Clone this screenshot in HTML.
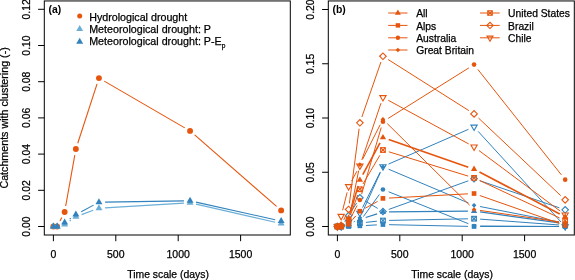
<!DOCTYPE html>
<html><head><meta charset="utf-8"><style>
html,body{margin:0;padding:0;background:#fff;}
svg{display:block;will-change:transform;}
text{font-family:"Liberation Sans", sans-serif;stroke:#000;stroke-width:0.25px;}
</style></head><body>
<svg width="575" height="280" viewBox="0 0 575 280">
<rect width="575" height="280" fill="#fff"/>
<rect x="44.3" y="0.95" width="246" height="234.05" fill="none" stroke="#000" stroke-width="1.0"/>
<rect x="328.3" y="0.95" width="246" height="234.05" fill="none" stroke="#000" stroke-width="1.0"/>
<line x1="38.1" y1="226.5" x2="44.3" y2="226.5" stroke="#000" stroke-width="1.0"/>
<text x="30" y="226.5" font-size="10.4" text-anchor="middle" transform="rotate(-90 30 226.5)" fill="#000">0.00</text>
<line x1="38.1" y1="190.3" x2="44.3" y2="190.3" stroke="#000" stroke-width="1.0"/>
<text x="30" y="190.3" font-size="10.4" text-anchor="middle" transform="rotate(-90 30 190.3)" fill="#000">0.02</text>
<line x1="38.1" y1="154.1" x2="44.3" y2="154.1" stroke="#000" stroke-width="1.0"/>
<text x="30" y="154.1" font-size="10.4" text-anchor="middle" transform="rotate(-90 30 154.1)" fill="#000">0.04</text>
<line x1="38.1" y1="117.9" x2="44.3" y2="117.9" stroke="#000" stroke-width="1.0"/>
<text x="30" y="117.9" font-size="10.4" text-anchor="middle" transform="rotate(-90 30 117.9)" fill="#000">0.06</text>
<line x1="38.1" y1="81.7" x2="44.3" y2="81.7" stroke="#000" stroke-width="1.0"/>
<text x="30" y="81.7" font-size="10.4" text-anchor="middle" transform="rotate(-90 30 81.7)" fill="#000">0.08</text>
<line x1="38.1" y1="45.5" x2="44.3" y2="45.5" stroke="#000" stroke-width="1.0"/>
<text x="30" y="45.5" font-size="10.4" text-anchor="middle" transform="rotate(-90 30 45.5)" fill="#000">0.10</text>
<line x1="38.1" y1="9.3" x2="44.3" y2="9.3" stroke="#000" stroke-width="1.0"/>
<text x="30" y="9.3" font-size="10.4" text-anchor="middle" transform="rotate(-90 30 9.3)" fill="#000">0.12</text>
<line x1="53.4" y1="235" x2="53.4" y2="241.2" stroke="#000" stroke-width="1.0"/>
<text x="53.4" y="257.7" font-size="10.5" text-anchor="middle" fill="#000">0</text>
<line x1="115.8" y1="235" x2="115.8" y2="241.2" stroke="#000" stroke-width="1.0"/>
<text x="115.8" y="257.7" font-size="10.5" text-anchor="middle" fill="#000">500</text>
<line x1="178.2" y1="235" x2="178.2" y2="241.2" stroke="#000" stroke-width="1.0"/>
<text x="178.2" y="257.7" font-size="10.5" text-anchor="middle" fill="#000">1000</text>
<line x1="240.6" y1="235" x2="240.6" y2="241.2" stroke="#000" stroke-width="1.0"/>
<text x="240.6" y="257.7" font-size="10.5" text-anchor="middle" fill="#000">1500</text>
<text x="168.1" y="277.6" font-size="10.4" text-anchor="middle" fill="#000">Time scale (days)</text>
<text x="8" y="117.9" font-size="10.7" text-anchor="middle" transform="rotate(-90 8 117.9)" fill="#000">Catchments with clustering (-)</text>
<line x1="322.1" y1="226.5" x2="328.3" y2="226.5" stroke="#000" stroke-width="1.0"/>
<text x="314" y="226.5" font-size="10.4" text-anchor="middle" transform="rotate(-90 314 226.5)" fill="#000">0.00</text>
<line x1="322.1" y1="172.25" x2="328.3" y2="172.25" stroke="#000" stroke-width="1.0"/>
<text x="314" y="172.25" font-size="10.4" text-anchor="middle" transform="rotate(-90 314 172.25)" fill="#000">0.05</text>
<line x1="322.1" y1="118" x2="328.3" y2="118" stroke="#000" stroke-width="1.0"/>
<text x="314" y="118" font-size="10.4" text-anchor="middle" transform="rotate(-90 314 118)" fill="#000">0.10</text>
<line x1="322.1" y1="63.75" x2="328.3" y2="63.75" stroke="#000" stroke-width="1.0"/>
<text x="314" y="63.75" font-size="10.4" text-anchor="middle" transform="rotate(-90 314 63.75)" fill="#000">0.15</text>
<line x1="322.1" y1="9.5" x2="328.3" y2="9.5" stroke="#000" stroke-width="1.0"/>
<text x="314" y="9.5" font-size="10.4" text-anchor="middle" transform="rotate(-90 314 9.5)" fill="#000">0.20</text>
<line x1="337.4" y1="235" x2="337.4" y2="241.2" stroke="#000" stroke-width="1.0"/>
<text x="337.4" y="257.7" font-size="10.5" text-anchor="middle" fill="#000">0</text>
<line x1="399.8" y1="235" x2="399.8" y2="241.2" stroke="#000" stroke-width="1.0"/>
<text x="399.8" y="257.7" font-size="10.5" text-anchor="middle" fill="#000">500</text>
<line x1="462.2" y1="235" x2="462.2" y2="241.2" stroke="#000" stroke-width="1.0"/>
<text x="462.2" y="257.7" font-size="10.5" text-anchor="middle" fill="#000">1000</text>
<line x1="524.6" y1="235" x2="524.6" y2="241.2" stroke="#000" stroke-width="1.0"/>
<text x="524.6" y="257.7" font-size="10.5" text-anchor="middle" fill="#000">1500</text>
<text x="452.1" y="277.6" font-size="10.4" text-anchor="middle" fill="#000">Time scale (days)</text>
<line x1="59.95" y1="221.08" x2="61.83" y2="217.44" stroke="#E6550D" stroke-width="1.1"/>
<line x1="65.7" y1="206.01" x2="74.79" y2="155.04" stroke="#E6550D" stroke-width="1.1"/>
<line x1="77.75" y1="143.23" x2="97.06" y2="83.88" stroke="#E6550D" stroke-width="1.1"/>
<line x1="104.23" y1="81.14" x2="184.78" y2="127.87" stroke="#E6550D" stroke-width="1.1"/>
<line x1="194.65" y1="134.94" x2="276.56" y2="206.38" stroke="#E6550D" stroke-width="1.1"/>
<circle cx="53.4" cy="226.5" r="2.94" fill="#E6550D"/>
<circle cx="57.14" cy="226.5" r="2.94" fill="#E6550D"/>
<circle cx="64.63" cy="212.02" r="2.94" fill="#E6550D"/>
<circle cx="75.86" cy="149.03" r="2.94" fill="#E6550D"/>
<circle cx="98.95" cy="78.08" r="2.94" fill="#E6550D"/>
<circle cx="190.06" cy="130.93" r="2.94" fill="#E6550D"/>
<circle cx="281.16" cy="210.39" r="2.94" fill="#E6550D"/>
<line x1="69.65" y1="221.03" x2="70.85" y2="220.2" stroke="#6BAED6" stroke-width="1.1"/>
<line x1="81.59" y1="214.62" x2="93.23" y2="210.33" stroke="#6BAED6" stroke-width="1.1"/>
<line x1="105.04" y1="207.86" x2="183.97" y2="203.15" stroke="#6BAED6" stroke-width="1.1"/>
<line x1="196" y1="204.15" x2="275.21" y2="222.25" stroke="#6BAED6" stroke-width="1.1"/>
<polygon points="53.4,222.48 56.88,228.51 49.92,228.51" fill="#6BAED6"/>
<polygon points="57.14,222.48 60.63,228.51 53.66,228.51" fill="#6BAED6"/>
<polygon points="64.63,220.49 68.12,226.52 61.15,226.52" fill="#6BAED6"/>
<polygon points="75.86,212.7 79.35,218.74 72.38,218.74" fill="#6BAED6"/>
<polygon points="98.95,204.2 102.44,210.23 95.47,210.23" fill="#6BAED6"/>
<polygon points="190.06,198.77 193.54,204.8 186.57,204.8" fill="#6BAED6"/>
<polygon points="281.16,219.58 284.64,225.62 277.68,225.62" fill="#6BAED6"/>
<line x1="69.61" y1="218.99" x2="70.89" y2="218.08" stroke="#3182BD" stroke-width="1.1"/>
<line x1="81.25" y1="211.68" x2="93.57" y2="205.12" stroke="#3182BD" stroke-width="1.1"/>
<line x1="105.05" y1="202.15" x2="183.96" y2="200.89" stroke="#3182BD" stroke-width="1.1"/>
<line x1="196.01" y1="202.12" x2="275.21" y2="219.75" stroke="#3182BD" stroke-width="1.1"/>
<polygon points="53.4,222.48 56.88,228.51 49.92,228.51" fill="#3182BD"/>
<polygon points="57.14,222.48 60.63,228.51 53.66,228.51" fill="#3182BD"/>
<polygon points="64.63,218.49 68.12,224.53 61.15,224.53" fill="#3182BD"/>
<polygon points="75.86,210.53 79.35,216.57 72.38,216.57" fill="#3182BD"/>
<polygon points="98.95,198.22 102.44,204.26 95.47,204.26" fill="#3182BD"/>
<polygon points="190.06,196.77 193.54,202.81 186.57,202.81" fill="#3182BD"/>
<polygon points="281.16,217.05 284.64,223.08 277.68,223.08" fill="#3182BD"/>
<text x="48.6" y="13.4" font-size="10.4" text-anchor="start" font-weight="bold" style="stroke-width:0" fill="#000">(a)</text>
<circle cx="79.7" cy="15.9" r="2.5" fill="#E6550D"/>
<polygon points="79.7,24.98 83.18,31.01 76.22,31.01" fill="#6BAED6"/>
<polygon points="79.7,37.78 83.18,43.81 76.22,43.81" fill="#3182BD"/>
<text x="89.2" y="20.6" font-size="10.7" text-anchor="start" fill="#000">Hydrological drought</text>
<text x="89.2" y="32.9" font-size="10.7" text-anchor="start" fill="#000">Meteorological drought: P</text>
<text x="89.2" y="45.2" font-size="10.7" text-anchor="start" fill="#000">Meteorological drought: P-E<tspan font-size="6.6" dy="3.2">p</tspan></text>
<g>
<line x1="354.25" y1="221.73" x2="354.25" y2="221.73" stroke="#3182BD" stroke-width="1.25"/>
<line x1="365.67" y1="217.48" x2="377.14" y2="213.82" stroke="#3182BD" stroke-width="1.25"/>
<line x1="389.05" y1="211.9" x2="467.96" y2="211.15" stroke="#3182BD" stroke-width="1.25"/>
<line x1="480.1" y1="211.93" x2="559.12" y2="222.84" stroke="#3182BD" stroke-width="1.25"/>
<polygon points="337.4,222.88 340.53,228.31 334.27,228.31" fill="#3182BD"/>
<polygon points="341.14,222.88 344.28,228.31 338.01,228.31" fill="#3182BD"/>
<polygon points="348.63,220.5 351.76,225.92 345.5,225.92" fill="#3182BD"/>
<polygon points="359.86,215.72 363,221.15 356.73,221.15" fill="#3182BD"/>
<polygon points="382.95,208.35 386.08,213.77 379.82,213.77" fill="#3182BD"/>
<polygon points="474.06,207.48 477.19,212.9 470.92,212.9" fill="#3182BD"/>
<polygon points="565.16,220.06 568.29,225.49 562.03,225.49" fill="#3182BD"/>
<line x1="365.95" y1="225.51" x2="376.86" y2="224.89" stroke="#3182BD" stroke-width="1.0"/>
<line x1="389.05" y1="224.68" x2="467.96" y2="226.37" stroke="#3182BD" stroke-width="1.0"/>
<line x1="480.16" y1="226.5" x2="559.06" y2="226.5" stroke="#3182BD" stroke-width="1.0"/>
<rect x="335.07" y="224.18" width="4.65" height="4.65" fill="#3182BD"/>
<rect x="338.82" y="224.18" width="4.65" height="4.65" fill="#3182BD"/>
<rect x="346.31" y="224.18" width="4.65" height="4.65" fill="#3182BD"/>
<rect x="357.54" y="223.52" width="4.65" height="4.65" fill="#3182BD"/>
<rect x="380.63" y="222.22" width="4.65" height="4.65" fill="#3182BD"/>
<rect x="471.73" y="224.18" width="4.65" height="4.65" fill="#3182BD"/>
<rect x="562.83" y="224.18" width="4.65" height="4.65" fill="#3182BD"/>
<line x1="363.43" y1="216.56" x2="379.38" y2="194.45" stroke="#3182BD" stroke-width="1.0"/>
<line x1="388.62" y1="191.77" x2="468.39" y2="223.69" stroke="#3182BD" stroke-width="1.0"/>
<line x1="480.16" y1="225.99" x2="559.06" y2="226.46" stroke="#3182BD" stroke-width="1.0"/>
<circle cx="337.4" cy="226.5" r="2.33" fill="#3182BD"/>
<circle cx="341.14" cy="226.5" r="2.33" fill="#3182BD"/>
<circle cx="348.63" cy="225.41" r="2.33" fill="#3182BD"/>
<circle cx="359.86" cy="221.51" r="2.33" fill="#3182BD"/>
<circle cx="382.95" cy="189.5" r="2.33" fill="#3182BD"/>
<circle cx="474.06" cy="225.96" r="2.33" fill="#3182BD"/>
<circle cx="565.16" cy="226.5" r="2.33" fill="#3182BD"/>
<line x1="353.69" y1="222" x2="354.81" y2="221.24" stroke="#3182BD" stroke-width="1.0"/>
<line x1="362.38" y1="212.26" x2="380.44" y2="172.38" stroke="#3182BD" stroke-width="1.0"/>
<line x1="388.57" y1="169.2" x2="468.44" y2="202.97" stroke="#3182BD" stroke-width="1.0"/>
<line x1="480.04" y1="206.52" x2="559.17" y2="222.07" stroke="#3182BD" stroke-width="1.0"/>
<polygon points="335.07,226.5 337.4,224.18 339.72,226.5 337.4,228.82" fill="#3182BD"/>
<polygon points="338.82,226.5 341.14,224.18 343.47,226.5 341.14,228.82" fill="#3182BD"/>
<polygon points="346.31,225.41 348.63,223.09 350.96,225.41 348.63,227.74" fill="#3182BD"/>
<polygon points="357.54,217.82 359.86,215.5 362.19,217.82 359.86,220.14" fill="#3182BD"/>
<polygon points="380.63,166.82 382.95,164.5 385.28,166.82 382.95,169.15" fill="#3182BD"/>
<polygon points="471.73,205.34 474.06,203.02 476.38,205.34 474.06,207.67" fill="#3182BD"/>
<polygon points="562.83,223.25 565.16,220.92 567.49,223.25 565.16,225.57" fill="#3182BD"/>
<line x1="365.93" y1="222.37" x2="376.89" y2="221.19" stroke="#3182BD" stroke-width="1.0"/>
<line x1="389.05" y1="220.41" x2="467.96" y2="218.81" stroke="#3182BD" stroke-width="1.0"/>
<line x1="480.14" y1="219.14" x2="559.08" y2="224.97" stroke="#3182BD" stroke-width="1.0"/>
<rect x="335.07" y="224.18" width="4.65" height="4.65" fill="none" stroke="#3182BD" stroke-width="1.1"/>
<line x1="335.07" y1="224.18" x2="339.72" y2="228.82" stroke="#3182BD" stroke-width="1.1"/>
<line x1="335.07" y1="228.82" x2="339.72" y2="224.18" stroke="#3182BD" stroke-width="1.1"/>
<rect x="338.82" y="224.18" width="4.65" height="4.65" fill="none" stroke="#3182BD" stroke-width="1.1"/>
<line x1="338.82" y1="224.18" x2="343.47" y2="228.82" stroke="#3182BD" stroke-width="1.1"/>
<line x1="338.82" y1="228.82" x2="343.47" y2="224.18" stroke="#3182BD" stroke-width="1.1"/>
<rect x="346.31" y="223.09" width="4.65" height="4.65" fill="none" stroke="#3182BD" stroke-width="1.1"/>
<line x1="346.31" y1="223.09" x2="350.96" y2="227.74" stroke="#3182BD" stroke-width="1.1"/>
<line x1="346.31" y1="227.74" x2="350.96" y2="223.09" stroke="#3182BD" stroke-width="1.1"/>
<rect x="357.54" y="220.7" width="4.65" height="4.65" fill="none" stroke="#3182BD" stroke-width="1.1"/>
<line x1="357.54" y1="220.7" x2="362.19" y2="225.35" stroke="#3182BD" stroke-width="1.1"/>
<line x1="357.54" y1="225.35" x2="362.19" y2="220.7" stroke="#3182BD" stroke-width="1.1"/>
<rect x="380.63" y="218.21" width="4.65" height="4.65" fill="none" stroke="#3182BD" stroke-width="1.1"/>
<line x1="380.63" y1="218.21" x2="385.28" y2="222.86" stroke="#3182BD" stroke-width="1.1"/>
<line x1="380.63" y1="222.86" x2="385.28" y2="218.21" stroke="#3182BD" stroke-width="1.1"/>
<rect x="471.73" y="216.36" width="4.65" height="4.65" fill="none" stroke="#3182BD" stroke-width="1.1"/>
<line x1="471.73" y1="216.36" x2="476.38" y2="221.01" stroke="#3182BD" stroke-width="1.1"/>
<line x1="471.73" y1="221.01" x2="476.38" y2="216.36" stroke="#3182BD" stroke-width="1.1"/>
<rect x="562.83" y="223.09" width="4.65" height="4.65" fill="none" stroke="#3182BD" stroke-width="1.1"/>
<line x1="562.83" y1="223.09" x2="567.49" y2="227.74" stroke="#3182BD" stroke-width="1.1"/>
<line x1="562.83" y1="227.74" x2="567.49" y2="223.09" stroke="#3182BD" stroke-width="1.1"/>
<line x1="344.61" y1="221.48" x2="345.17" y2="220.67" stroke="#3182BD" stroke-width="1.0"/>
<line x1="351.89" y1="210.49" x2="356.61" y2="203.01" stroke="#3182BD" stroke-width="1.0"/>
<line x1="365.11" y1="200.96" x2="377.7" y2="208.42" stroke="#3182BD" stroke-width="1.0"/>
<line x1="388.69" y1="209.46" x2="468.32" y2="180.82" stroke="#3182BD" stroke-width="1.0"/>
<line x1="479.83" y1="180.73" x2="559.39" y2="207.82" stroke="#3182BD" stroke-width="1.0"/>
<polygon points="334.11,226.5 337.4,223.21 340.69,226.5 337.4,229.79" fill="none" stroke="#3182BD" stroke-width="1.1"/>
<polygon points="337.86,226.5 341.14,223.21 344.43,226.5 341.14,229.79" fill="none" stroke="#3182BD" stroke-width="1.1"/>
<polygon points="345.34,215.65 348.63,212.36 351.92,215.65 348.63,218.94" fill="none" stroke="#3182BD" stroke-width="1.1"/>
<polygon points="356.58,197.86 359.86,194.57 363.15,197.86 359.86,201.14" fill="none" stroke="#3182BD" stroke-width="1.1"/>
<polygon points="379.66,211.53 382.95,208.24 386.24,211.53 382.95,214.82" fill="none" stroke="#3182BD" stroke-width="1.1"/>
<polygon points="470.77,178.76 474.06,175.47 477.34,178.76 474.06,182.05" fill="none" stroke="#3182BD" stroke-width="1.1"/>
<polygon points="561.87,209.79 565.16,206.5 568.45,209.79 565.16,213.08" fill="none" stroke="#3182BD" stroke-width="1.1"/>
<line x1="353.37" y1="218.32" x2="355.13" y2="216.89" stroke="#3182BD" stroke-width="1.0"/>
<line x1="362.57" y1="207.58" x2="380.24" y2="171.96" stroke="#3182BD" stroke-width="1.0"/>
<line x1="388.55" y1="164.07" x2="468.46" y2="129.33" stroke="#3182BD" stroke-width="1.0"/>
<line x1="478.17" y1="131.4" x2="561.04" y2="222" stroke="#3182BD" stroke-width="1.0"/>
<polygon points="337.4,230.12 340.53,224.69 334.27,224.69" fill="none" stroke="#3182BD" stroke-width="1.1"/>
<polygon points="341.14,230.12 344.28,224.69 338.01,224.69" fill="none" stroke="#3182BD" stroke-width="1.1"/>
<polygon points="348.63,225.78 351.76,220.35 345.5,220.35" fill="none" stroke="#3182BD" stroke-width="1.1"/>
<polygon points="359.86,216.66 363,211.24 356.73,211.24" fill="none" stroke="#3182BD" stroke-width="1.1"/>
<polygon points="382.95,170.12 386.08,164.69 379.82,164.69" fill="none" stroke="#3182BD" stroke-width="1.1"/>
<polygon points="474.06,130.51 477.19,125.09 470.92,125.09" fill="none" stroke="#3182BD" stroke-width="1.1"/>
<polygon points="565.16,230.12 568.29,224.69 562.03,224.69" fill="none" stroke="#3182BD" stroke-width="1.1"/>
<line x1="350.37" y1="211.97" x2="358.12" y2="185.91" stroke="#E6550D" stroke-width="1.6"/>
<line x1="362.77" y1="174.7" x2="380.04" y2="142.89" stroke="#E6550D" stroke-width="1.6"/>
<line x1="388.71" y1="139.53" x2="468.29" y2="167.21" stroke="#E6550D" stroke-width="1.6"/>
<line x1="479.46" y1="172.04" x2="559.75" y2="214.02" stroke="#E6550D" stroke-width="1.6"/>
<polygon points="337.4,222.88 340.53,228.31 334.27,228.31" fill="#E6550D"/>
<polygon points="341.14,222.88 344.28,228.31 338.01,228.31" fill="#E6550D"/>
<polygon points="348.63,214.2 351.76,219.63 345.5,219.63" fill="#E6550D"/>
<polygon points="359.86,176.45 363,181.87 356.73,181.87" fill="#E6550D"/>
<polygon points="382.95,133.91 386.08,139.34 379.82,139.34" fill="#E6550D"/>
<polygon points="474.06,165.6 477.19,171.02 470.92,171.02" fill="#E6550D"/>
<polygon points="565.16,213.23 568.29,218.65 562.03,218.65" fill="#E6550D"/>
<line x1="352.6" y1="219.69" x2="355.9" y2="215.84" stroke="#E6550D" stroke-width="1.0"/>
<line x1="365.2" y1="208.24" x2="377.62" y2="201.36" stroke="#E6550D" stroke-width="1.0"/>
<line x1="389.04" y1="198.07" x2="467.96" y2="193.84" stroke="#E6550D" stroke-width="1.0"/>
<line x1="479.81" y1="195.53" x2="559.4" y2="223.4" stroke="#E6550D" stroke-width="1.0"/>
<rect x="335.07" y="224.18" width="4.65" height="4.65" fill="#E6550D"/>
<rect x="338.82" y="224.18" width="4.65" height="4.65" fill="#E6550D"/>
<rect x="346.31" y="222.01" width="4.65" height="4.65" fill="#E6550D"/>
<rect x="357.54" y="208.88" width="4.65" height="4.65" fill="#E6550D"/>
<rect x="380.63" y="196.07" width="4.65" height="4.65" fill="#E6550D"/>
<rect x="471.73" y="191.19" width="4.65" height="4.65" fill="#E6550D"/>
<rect x="562.83" y="223.09" width="4.65" height="4.65" fill="#E6550D"/>
<line x1="351.39" y1="216.72" x2="357.1" y2="205.47" stroke="#E6550D" stroke-width="1.0"/>
<line x1="361.59" y1="194.17" x2="381.23" y2="127.54" stroke="#E6550D" stroke-width="1.0"/>
<line x1="388.12" y1="118.45" x2="468.89" y2="67.86" stroke="#E6550D" stroke-width="1.0"/>
<line x1="477.84" y1="69.4" x2="561.37" y2="174.85" stroke="#E6550D" stroke-width="1.0"/>
<circle cx="337.4" cy="226.5" r="2.33" fill="#E6550D"/>
<circle cx="341.14" cy="226.5" r="2.33" fill="#E6550D"/>
<circle cx="348.63" cy="222.16" r="2.33" fill="#E6550D"/>
<circle cx="359.86" cy="200.03" r="2.33" fill="#E6550D"/>
<circle cx="382.95" cy="121.69" r="2.33" fill="#E6550D"/>
<circle cx="474.06" cy="64.62" r="2.33" fill="#E6550D"/>
<circle cx="565.16" cy="179.63" r="2.33" fill="#E6550D"/>
<line x1="349.82" y1="215.09" x2="358.67" y2="170.64" stroke="#E6550D" stroke-width="1.0"/>
<line x1="362.63" y1="159.22" x2="380.18" y2="124.74" stroke="#E6550D" stroke-width="1.0"/>
<line x1="387.29" y1="123.6" x2="469.72" y2="205.28" stroke="#E6550D" stroke-width="1.0"/>
<line x1="480.09" y1="210.44" x2="559.12" y2="221.83" stroke="#E6550D" stroke-width="1.0"/>
<polygon points="335.07,226.5 337.4,224.18 339.72,226.5 337.4,228.82" fill="#E6550D"/>
<polygon points="338.82,226.5 341.14,224.18 343.47,226.5 341.14,228.82" fill="#E6550D"/>
<polygon points="346.31,221.07 348.63,218.75 350.96,221.07 348.63,223.4" fill="#E6550D"/>
<polygon points="357.54,164.66 359.86,162.33 362.19,164.66 359.86,166.98" fill="#E6550D"/>
<polygon points="380.63,119.3 382.95,116.98 385.28,119.3 382.95,121.63" fill="#E6550D"/>
<polygon points="471.73,209.57 474.06,207.25 476.38,209.57 474.06,211.9" fill="#E6550D"/>
<polygon points="562.83,222.7 565.16,220.38 567.49,222.7 565.16,225.03" fill="#E6550D"/>
<line x1="350.73" y1="214.26" x2="357.77" y2="195.01" stroke="#E6550D" stroke-width="1.0"/>
<line x1="362.96" y1="184.03" x2="379.86" y2="155.27" stroke="#E6550D" stroke-width="1.0"/>
<line x1="388.78" y1="151.79" x2="468.22" y2="176.11" stroke="#E6550D" stroke-width="1.0"/>
<line x1="479.58" y1="180.48" x2="559.64" y2="217.95" stroke="#E6550D" stroke-width="1.0"/>
<rect x="335.07" y="224.18" width="4.65" height="4.65" fill="none" stroke="#E6550D" stroke-width="1.1"/>
<line x1="335.07" y1="224.18" x2="339.72" y2="228.82" stroke="#E6550D" stroke-width="1.1"/>
<line x1="335.07" y1="228.82" x2="339.72" y2="224.18" stroke="#E6550D" stroke-width="1.1"/>
<rect x="338.82" y="224.18" width="4.65" height="4.65" fill="none" stroke="#E6550D" stroke-width="1.1"/>
<line x1="338.82" y1="224.18" x2="343.47" y2="228.82" stroke="#E6550D" stroke-width="1.1"/>
<line x1="338.82" y1="228.82" x2="343.47" y2="224.18" stroke="#E6550D" stroke-width="1.1"/>
<rect x="346.31" y="217.67" width="4.65" height="4.65" fill="none" stroke="#E6550D" stroke-width="1.1"/>
<line x1="346.31" y1="217.67" x2="350.96" y2="222.31" stroke="#E6550D" stroke-width="1.1"/>
<line x1="346.31" y1="222.31" x2="350.96" y2="217.67" stroke="#E6550D" stroke-width="1.1"/>
<rect x="357.54" y="186.96" width="4.65" height="4.65" fill="none" stroke="#E6550D" stroke-width="1.1"/>
<line x1="357.54" y1="186.96" x2="362.19" y2="191.61" stroke="#E6550D" stroke-width="1.1"/>
<line x1="357.54" y1="191.61" x2="362.19" y2="186.96" stroke="#E6550D" stroke-width="1.1"/>
<rect x="380.63" y="147.68" width="4.65" height="4.65" fill="none" stroke="#E6550D" stroke-width="1.1"/>
<line x1="380.63" y1="147.68" x2="385.28" y2="152.33" stroke="#E6550D" stroke-width="1.1"/>
<line x1="380.63" y1="152.33" x2="385.28" y2="147.68" stroke="#E6550D" stroke-width="1.1"/>
<rect x="471.73" y="175.57" width="4.65" height="4.65" fill="none" stroke="#E6550D" stroke-width="1.1"/>
<line x1="471.73" y1="175.57" x2="476.38" y2="180.22" stroke="#E6550D" stroke-width="1.1"/>
<line x1="471.73" y1="180.22" x2="476.38" y2="175.57" stroke="#E6550D" stroke-width="1.1"/>
<rect x="562.83" y="218.21" width="4.65" height="4.65" fill="none" stroke="#E6550D" stroke-width="1.1"/>
<line x1="562.83" y1="218.21" x2="567.49" y2="222.86" stroke="#E6550D" stroke-width="1.1"/>
<line x1="562.83" y1="222.86" x2="567.49" y2="218.21" stroke="#E6550D" stroke-width="1.1"/>
<line x1="343.74" y1="219.89" x2="346.04" y2="214.99" stroke="#E6550D" stroke-width="1.0"/>
<line x1="349.42" y1="203.42" x2="359.08" y2="128.82" stroke="#E6550D" stroke-width="1.0"/>
<line x1="361.86" y1="117.01" x2="380.95" y2="62.03" stroke="#E6550D" stroke-width="1.0"/>
<line x1="388.11" y1="59.52" x2="468.9" y2="110.62" stroke="#E6550D" stroke-width="1.0"/>
<line x1="478.49" y1="118.06" x2="560.72" y2="195.62" stroke="#E6550D" stroke-width="1.0"/>
<polygon points="334.11,226.5 337.4,223.21 340.69,226.5 337.4,229.79" fill="none" stroke="#E6550D" stroke-width="1.1"/>
<polygon points="337.86,225.41 341.14,222.13 344.43,225.41 341.14,228.7" fill="none" stroke="#E6550D" stroke-width="1.1"/>
<polygon points="345.34,209.47 348.63,206.18 351.92,209.47 348.63,212.75" fill="none" stroke="#E6550D" stroke-width="1.1"/>
<polygon points="356.58,122.77 359.86,119.49 363.15,122.77 359.86,126.06" fill="none" stroke="#E6550D" stroke-width="1.1"/>
<polygon points="379.66,56.26 382.95,52.98 386.24,56.26 382.95,59.55" fill="none" stroke="#E6550D" stroke-width="1.1"/>
<polygon points="470.77,113.88 474.06,110.59 477.34,113.88 474.06,117.17" fill="none" stroke="#E6550D" stroke-width="1.1"/>
<polygon points="561.87,199.81 565.16,196.52 568.45,199.81 565.16,203.1" fill="none" stroke="#E6550D" stroke-width="1.1"/>
<line x1="342.63" y1="210.28" x2="347.14" y2="192.38" stroke="#E6550D" stroke-width="1.0"/>
<line x1="351.54" y1="181.1" x2="356.96" y2="171.1" stroke="#E6550D" stroke-width="1.0"/>
<line x1="361.82" y1="159.96" x2="381" y2="103.16" stroke="#E6550D" stroke-width="1.0"/>
<line x1="388.31" y1="100.3" x2="468.7" y2="143.95" stroke="#E6550D" stroke-width="1.0"/>
<line x1="478.95" y1="150.51" x2="560.27" y2="211.14" stroke="#E6550D" stroke-width="1.0"/>
<polygon points="337.4,230.12 340.53,224.69 334.27,224.69" fill="none" stroke="#E6550D" stroke-width="1.1"/>
<polygon points="341.14,219.81 344.28,214.38 338.01,214.38" fill="none" stroke="#E6550D" stroke-width="1.1"/>
<polygon points="348.63,190.08 351.76,184.66 345.5,184.66" fill="none" stroke="#E6550D" stroke-width="1.1"/>
<polygon points="359.86,169.36 363,163.93 356.73,163.93" fill="none" stroke="#E6550D" stroke-width="1.1"/>
<polygon points="382.95,101 386.08,95.58 379.82,95.58" fill="none" stroke="#E6550D" stroke-width="1.1"/>
<polygon points="474.06,150.48 477.19,145.05 470.92,145.05" fill="none" stroke="#E6550D" stroke-width="1.1"/>
<polygon points="565.16,218.4 568.29,212.97 562.03,212.97" fill="none" stroke="#E6550D" stroke-width="1.1"/>
</g>
<text x="332.5" y="13.4" font-size="10.4" text-anchor="start" font-weight="bold" style="stroke-width:0" fill="#000">(b)</text>
<line x1="388.2" y1="13" x2="407.5" y2="13" stroke="#E6550D" stroke-width="1.0"/>
<polygon points="397.9,9.56 400.88,14.72 394.92,14.72" fill="#E6550D"/>
<text x="416.2" y="17.3" font-size="10.3" text-anchor="start" fill="#000">All</text>
<line x1="388.2" y1="25.4" x2="407.5" y2="25.4" stroke="#E6550D" stroke-width="1.0"/>
<rect x="395.69" y="23.19" width="4.43" height="4.43" fill="#E6550D"/>
<text x="416.2" y="29.5" font-size="10.3" text-anchor="start" fill="#000">Alps</text>
<line x1="388.2" y1="37.8" x2="407.5" y2="37.8" stroke="#E6550D" stroke-width="1.0"/>
<circle cx="397.9" cy="37.8" r="2.21" fill="#E6550D"/>
<text x="416.2" y="41.7" font-size="10.3" text-anchor="start" fill="#000">Australia</text>
<line x1="388.2" y1="50" x2="407.5" y2="50" stroke="#E6550D" stroke-width="1.0"/>
<polygon points="395.69,50 397.9,47.79 400.11,50 397.9,52.21" fill="#E6550D"/>
<text x="416.2" y="53.9" font-size="10.3" text-anchor="start" fill="#000">Great Britain</text>
<line x1="480" y1="13" x2="499.7" y2="13" stroke="#E6550D" stroke-width="1.0"/>
<rect x="487.79" y="10.79" width="4.43" height="4.43" fill="none" stroke="#E6550D" stroke-width="1.1"/>
<line x1="487.79" y1="10.79" x2="492.21" y2="15.21" stroke="#E6550D" stroke-width="1.1"/>
<line x1="487.79" y1="15.21" x2="492.21" y2="10.79" stroke="#E6550D" stroke-width="1.1"/>
<text x="508.1" y="17.3" font-size="10.3" text-anchor="start" fill="#000">United States</text>
<line x1="480" y1="25.4" x2="499.7" y2="25.4" stroke="#E6550D" stroke-width="1.0"/>
<polygon points="486.87,25.4 490,22.27 493.13,25.4 490,28.53" fill="none" stroke="#E6550D" stroke-width="1.1"/>
<text x="508.1" y="29.5" font-size="10.3" text-anchor="start" fill="#000">Brazil</text>
<line x1="480" y1="37.8" x2="499.7" y2="37.8" stroke="#E6550D" stroke-width="1.0"/>
<polygon points="490,41.24 492.98,36.08 487.02,36.08" fill="none" stroke="#E6550D" stroke-width="1.1"/>
<text x="508.1" y="41.7" font-size="10.3" text-anchor="start" fill="#000">Chile</text>
</svg>
</body></html>
